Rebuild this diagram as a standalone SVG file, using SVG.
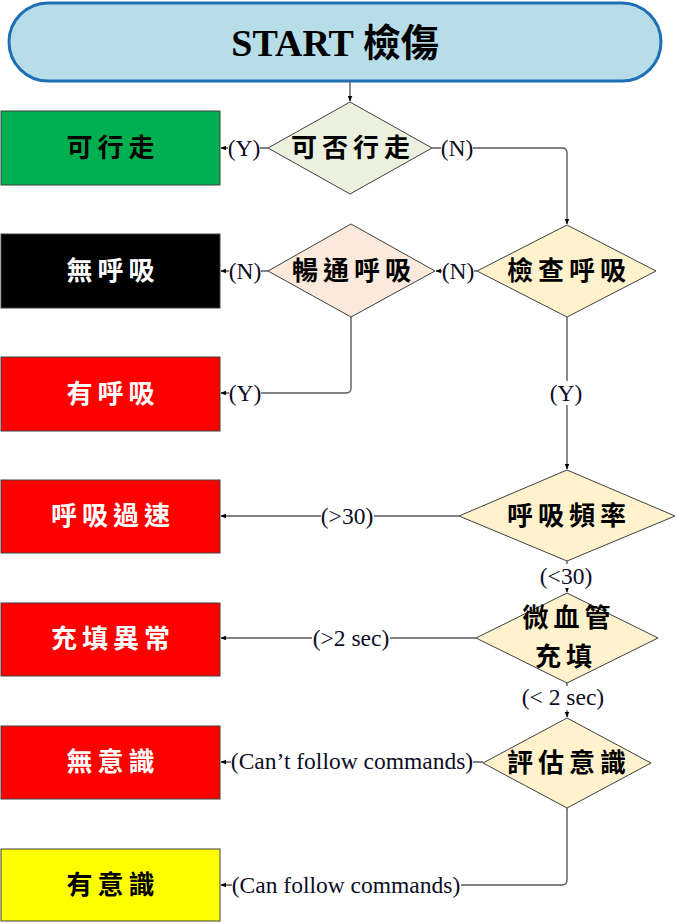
<svg xmlns="http://www.w3.org/2000/svg" width="676" height="923" viewBox="0 0 676 923">
<defs>
<marker id="arr" viewBox="0 0 10 10" refX="9" refY="5" markerWidth="6" markerHeight="6" markerUnits="userSpaceOnUse" orient="auto">
<path d="M0,1 L10,5 L0,9 z" fill="#000"/>
</marker>
</defs>
<style>
.box{stroke:#404040;stroke-width:1}
.dia{stroke:#404040;stroke-width:1}
.cjk{font-family:"Liberation Serif","Noto Sans CJK TC",serif;font-size:26px;font-weight:bold;letter-spacing:5px;text-anchor:middle;dominant-baseline:central}
.lbl{font-family:"Liberation Serif",serif;font-size:23.5px;fill:#0d0d26;text-anchor:middle;dominant-baseline:central}
.bg{fill:#fff}
.ln{fill:none;stroke:#595959;stroke-width:1.4}
</style>
<g id="start">
<rect x="9" y="3" width="652" height="78" rx="39" fill="#B7DDE8" stroke="#1F6FB5" stroke-width="3"/>
<text x="335" y="43" font-family="Liberation Serif,'Noto Sans CJK TC',serif" font-size="38" font-weight="bold" text-anchor="middle" dominant-baseline="central">START 檢傷</text>
</g>
<g id="connectors">
<path class="ln" d="M350,81 V101" marker-end="url(#arr)"/>
<path class="ln" d="M268,148 H221" marker-end="url(#arr)"/>
<path class="ln" d="M432,148 H562 Q567,148 567,153 V224" marker-end="url(#arr)"/>
<path class="ln" d="M477,271 H436" marker-end="url(#arr)"/>
<path class="ln" d="M268,271 H221" marker-end="url(#arr)"/>
<path class="ln" d="M351,317 V388 Q351,393 346,393 H221" marker-end="url(#arr)"/>
<path class="ln" d="M567,317 V469" marker-end="url(#arr)"/>
<path class="ln" d="M459,516 H221" marker-end="url(#arr)"/>
<path class="ln" d="M567,561 V592" marker-end="url(#arr)"/>
<path class="ln" d="M476,638 H221" marker-end="url(#arr)"/>
<path class="ln" d="M567,683 V717" marker-end="url(#arr)"/>
<path class="ln" d="M483,762 H221" marker-end="url(#arr)"/>
<path class="ln" d="M567,808 V880 Q567,885 562,885 H221" marker-end="url(#arr)"/>
<rect class="bg" x="228" y="136" width="32" height="24"/>
<text class="lbl" x="244" y="148">(Y)</text>
<rect class="bg" x="441" y="136" width="32" height="24"/>
<text class="lbl" x="457" y="148">(N)</text>
<rect class="bg" x="442" y="259" width="32" height="24"/>
<text class="lbl" x="458" y="271">(N)</text>
<rect class="bg" x="229" y="259" width="32" height="24"/>
<text class="lbl" x="245" y="271">(N)</text>
<rect class="bg" x="229" y="381" width="32" height="24"/>
<text class="lbl" x="245" y="393">(Y)</text>
<rect class="bg" x="550" y="381" width="32" height="24"/>
<text class="lbl" x="566" y="393">(Y)</text>
<rect class="bg" x="321" y="504" width="53" height="24"/>
<text class="lbl" x="347" y="516">(&gt;30)</text>
<rect class="bg" x="539" y="564" width="54" height="24"/>
<text class="lbl" x="566" y="576">(&lt;30)</text>
<rect class="bg" x="312" y="626" width="78" height="24"/>
<text class="lbl" x="351" y="638">(&gt;2 sec)</text>
<rect class="bg" x="520" y="686" width="86" height="24"/>
<text class="lbl" x="563" y="697">(&lt; 2 sec)</text>
<rect class="bg" x="231" y="749" width="242" height="24"/>
<text class="lbl" x="352" y="761">(Can’t follow commands)</text>
<rect class="bg" x="232" y="873" width="229" height="24"/>
<text class="lbl" x="346" y="885">(Can follow commands)</text>
</g>
<g id="box-walk"><rect class="box" x="1" y="111" width="219" height="74" fill="#00B050"/><text class="cjk" x="113" y="148" fill="#000">可行走</text></g>
<g id="box-nobreath"><rect class="box" x="1" y="234" width="219" height="74" fill="#000"/><text class="cjk" x="113" y="271" fill="#fff">無呼吸</text></g>
<g id="box-breath"><rect class="box" x="1" y="357" width="219" height="74" fill="#FF0000"/><text class="cjk" x="113" y="394" fill="#fff">有呼吸</text></g>
<g id="box-fast"><rect class="box" x="1" y="480" width="219" height="73" fill="#FF0000"/><text class="cjk" x="113" y="516" fill="#fff">呼吸過速</text></g>
<g id="box-fill"><rect class="box" x="1" y="603" width="219" height="73" fill="#FF0000"/><text class="cjk" x="113" y="639" fill="#fff">充填異常</text></g>
<g id="box-uncon"><rect class="box" x="1" y="726" width="219" height="73" fill="#FF0000"/><text class="cjk" x="113" y="762" fill="#fff">無意識</text></g>
<g id="box-con"><rect class="box" x="1" y="849" width="219" height="72" fill="#FFFF00"/><text class="cjk" x="113" y="885" fill="#000">有意識</text></g>
<g id="d-walk"><polygon class="dia" points="350,102 432,148 350,194 268,148" fill="#EBF1DE"/><text class="cjk" x="353" y="148">可否行走</text></g>
<g id="d-airway"><polygon class="dia" points="351,224 435,271 351,317 268,271" fill="#FBE9DB"/><text class="cjk" x="354" y="271">暢通呼吸</text></g>
<g id="d-check"><polygon class="dia" points="567,225 656,271 567,317 477,271" fill="#FFF2CC"/><text class="cjk" x="569" y="271">檢查呼吸</text></g>
<g id="d-rate"><polygon class="dia" points="567,470 675,516 567,561 459,516" fill="#FFF2CC"/><text class="cjk" x="569" y="516">呼吸頻率</text></g>
<g id="d-cap"><polygon class="dia" points="567,593 658,638 567,683 476,638" fill="#FFF2CC"/><text class="cjk" x="569" y="618">微血管</text><text class="cjk" x="566" y="657">充填</text></g>
<g id="d-con"><polygon class="dia" points="567,718 651,763 567,808 483,763" fill="#FFF2CC"/><text class="cjk" x="569" y="763">評估意識</text></g>
</svg>
